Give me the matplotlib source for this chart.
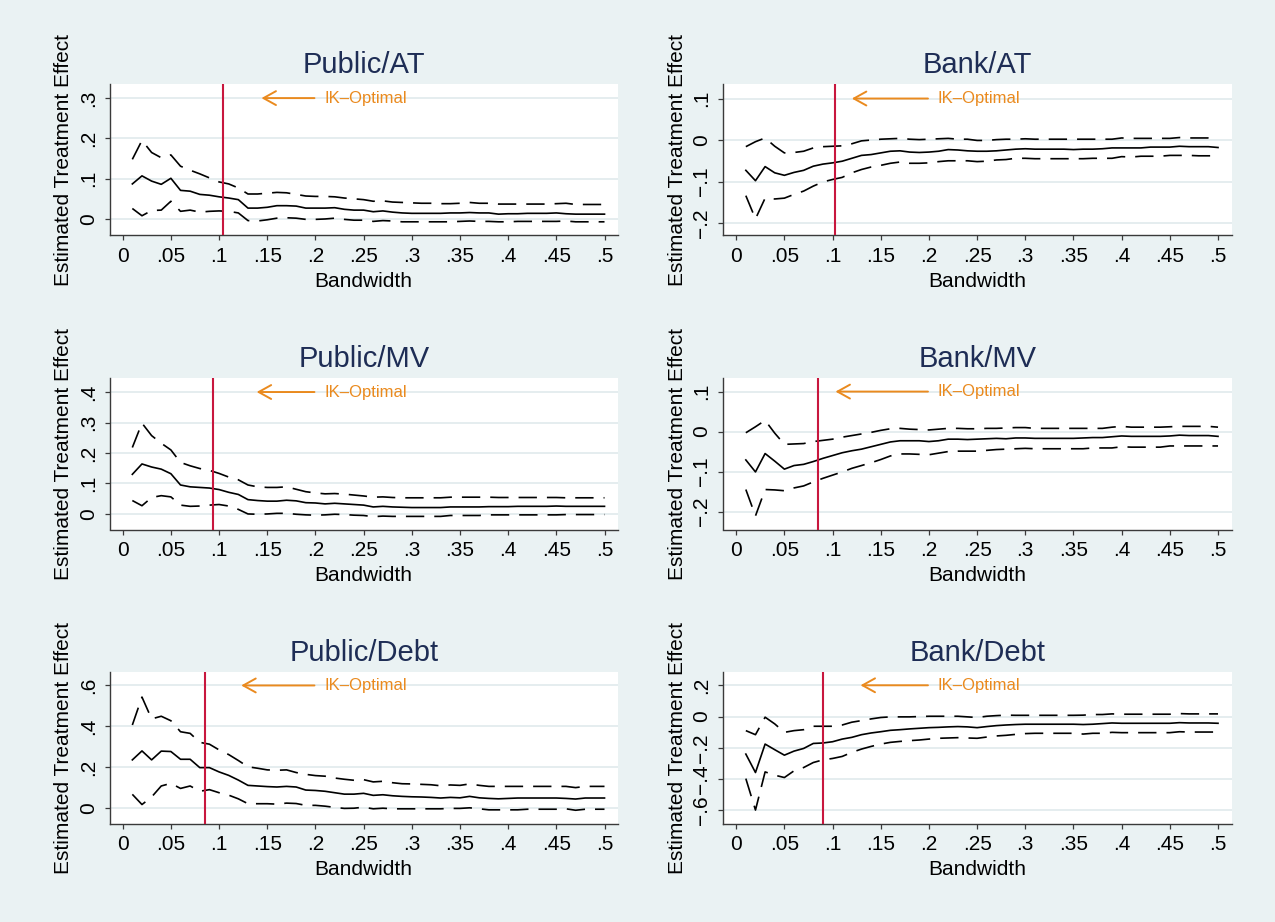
"""
Bandwidth sensitivity of the RD treatment effect, six panels (Stata look).
Saves out.png.
"""

import matplotlib
matplotlib.use("Agg")
import matplotlib.pyplot as plt
from matplotlib.ticker import FixedLocator, FuncFormatter

plt.rcParams["font.family"] = ["Liberation Sans", "DejaVu Sans"]

# ---------------------------------------------------------------------------
# Data
# ---------------------------------------------------------------------------

bandwidth = [0.01, 0.02, 0.03, 0.04, 0.05, 0.06, 0.07, 0.08, 0.09, 0.10,
             0.11, 0.12, 0.13, 0.14, 0.15, 0.16, 0.17, 0.18, 0.19, 0.20,
             0.21, 0.22, 0.23, 0.24, 0.25, 0.26, 0.27, 0.28, 0.29, 0.30,
             0.31, 0.32, 0.33, 0.34, 0.35, 0.36, 0.37, 0.38, 0.39, 0.40,
             0.41, 0.42, 0.43, 0.44, 0.45, 0.46, 0.47, 0.48, 0.49, 0.50]

titles = ["Public/AT", "Bank/AT", "Public/MV", "Bank/MV", "Public/Debt", "Bank/Debt"]

# IK-optimal bandwidth per panel
ik_optimal = [0.104, 0.103, 0.094, 0.085, 0.085, 0.090]

# Public/AT
pub_at_est = [.087, .107, .094, .086, .101, .071, .069, .061, .059, .055,
              .052, .048, .027, .027, .029, .033, .033, .032, .027, .027,
              .027, .028, .024, .022, .022, .018, .020, .017, .015, .014,
              .014, .014, .014, .015, .015, .016, .015, .015, .012, .013,
              .013, .014, .014, .014, .015, .013, .012, .012, .012, .012]
pub_at_hi = [.148, .195, .165, .152, .159, .131, .121, .112, .102, .092,
             .087, .077, .062, .062, .064, .066, .065, .061, .057, .056,
             .056, .055, .052, .050, .048, .044, .045, .042, .041, .040,
             .039, .039, .038, .038, .039, .041, .039, .039, .037, .037,
             .037, .037, .037, .037, .038, .039, .036, .036, .036, .036]
pub_at_lo = [.026, .008, .021, .022, .044, .019, .022, .017, .019, .020,
             .019, .015, -.004, -.005, -.002, .002, .003, .002, -.001, -.001,
             .000, .002, -.001, -.003, -.003, -.006, -.004, -.005, -.007, -.007,
             -.007, -.007, -.007, -.007, -.006, -.005, -.006, -.006, -.007, -.007,
             -.006, -.006, -.006, -.006, -.006, -.005, -.007, -.007, -.007, -.007]

# Bank/AT
bank_at_est = [-.073, -.098, -.064, -.079, -.085, -.078, -.073, -.063, -.058, -.055,
               -.051, -.044, -.037, -.035, -.031, -.027, -.026, -.029, -.030, -.029,
               -.027, -.023, -.024, -.026, -.027, -.027, -.026, -.024, -.022, -.021,
               -.022, -.022, -.022, -.022, -.023, -.022, -.022, -.021, -.019, -.019,
               -.019, -.019, -.017, -.017, -.017, -.015, -.016, -.016, -.016, -.018]
bank_at_hi = [-.016, -.004, .005, -.015, -.031, -.030, -.027, -.019, -.016, -.015,
              -.014, -.009, -.002, .000, .002, .003, .004, .002, .001, .002,
              .003, .004, .002, .002, -.001, -.001, .001, .002, .002, .003,
              .002, .002, .002, .002, .002, .002, .002, .002, .002, .005,
              .004, .004, .004, .004, .004, .006, .005, .005, .005, .003]
bank_at_lo = [-.134, -.190, -.140, -.142, -.140, -.131, -.123, -.111, -.101, -.095,
              -.090, -.079, -.071, -.065, -.061, -.056, -.053, -.056, -.056, -.055,
              -.052, -.050, -.050, -.050, -.052, -.051, -.048, -.047, -.044, -.044,
              -.045, -.045, -.045, -.045, -.045, -.045, -.044, -.044, -.044, -.040,
              -.041, -.039, -.039, -.039, -.037, -.037, -.037, -.038, -.038, -.038]

# Public/MV
pub_mv_est = [.130, .164, .154, .147, .132, .095, .089, .087, .085, .080,
              .071, .064, .047, .044, .042, .042, .045, .043, .037, .036,
              .033, .035, .033, .031, .029, .023, .025, .023, .022, .021,
              .021, .021, .021, .023, .023, .023, .023, .024, .024, .024,
              .025, .025, .025, .025, .026, .025, .025, .025, .025, .025]
pub_mv_hi = [.218, .298, .257, .232, .210, .169, .158, .149, .143, .133,
             .121, .112, .095, .089, .087, .087, .089, .081, .073, .069,
             .066, .067, .065, .062, .059, .055, .056, .054, .053, .053,
             .053, .053, .053, .055, .055, .055, .055, .055, .054, .054,
             .054, .054, .054, .054, .054, .053, .053, .053, .053, .053]
pub_mv_lo = [.044, .027, .054, .060, .056, .029, .025, .026, .029, .031,
             .026, .015, .000, -.001, .000, .002, .002, -.001, -.003, -.004,
             -.003, -.001, -.002, -.004, -.005, -.009, -.007, -.008, -.008, -.008,
             -.008, -.008, -.008, -.005, -.005, -.005, -.005, -.003, -.003, -.003,
             -.003, -.003, -.003, -.003, -.003, -.002, -.002, -.002, -.002, -.002]

# Bank/MV
bank_mv_est = [-.071, -.101, -.055, -.074, -.094, -.085, -.082, -.075, -.067, -.060,
               -.053, -.048, -.044, -.038, -.032, -.026, -.023, -.023, -.023, -.025,
               -.023, -.019, -.019, -.020, -.019, -.018, -.017, -.018, -.016, -.016,
               -.017, -.017, -.017, -.017, -.017, -.016, -.015, -.015, -.013, -.011,
               -.012, -.012, -.012, -.012, -.011, -.009, -.010, -.010, -.010, -.012]
bank_mv_hi = [-.003, .012, .028, -.004, -.032, -.031, -.030, -.025, -.022, -.019,
              -.014, -.010, -.006, -.002, .003, .007, .008, .006, .005, .004,
              .006, .008, .008, .007, .007, .008, .008, .009, .010, .010,
              .008, .008, .008, .008, .008, .008, .008, .008, .011, .013,
              .011, .011, .011, .011, .012, .013, .013, .013, .013, .011]
bank_mv_lo = [-.145, -.211, -.145, -.146, -.148, -.141, -.136, -.126, -.117, -.109,
              -.101, -.092, -.085, -.078, -.070, -.061, -.056, -.056, -.057, -.058,
              -.054, -.050, -.049, -.049, -.049, -.047, -.045, -.044, -.043, -.042,
              -.043, -.043, -.043, -.043, -.043, -.043, -.041, -.041, -.041, -.038,
              -.039, -.039, -.039, -.039, -.036, -.036, -.036, -.036, -.036, -.036]

# Public/Debt
pub_debt_est = [.235, .279, .235, .278, .276, .238, .238, .197, .197, .176,
                .159, .136, .110, .107, .104, .102, .105, .102, .087, .085,
                .081, .074, .067, .067, .071, .061, .064, .059, .056, .054,
                .053, .051, .048, .051, .049, .056, .049, .046, .044, .046,
                .048, .048, .048, .048, .048, .046, .043, .048, .048, .048]
pub_debt_hi = [.406, .543, .436, .449, .427, .373, .365, .321, .312, .284,
               .261, .232, .201, .194, .186, .184, .186, .173, .164, .158,
               .155, .146, .140, .135, .138, .127, .130, .123, .118, .117,
               .115, .113, .108, .112, .110, .117, .110, .105, .105, .105,
               .105, .105, .105, .105, .105, .105, .099, .105, .105, .105]
pub_debt_lo = [.066, .016, .053, .107, .120, .095, .107, .081, .089, .074,
               .062, .044, .020, .020, .020, .018, .023, .021, .012, .012,
               .008, .002, -.003, -.002, .003, -.005, -.002, -.005, -.005, -.005,
               -.005, -.005, -.005, -.003, -.003, .000, -.005, -.010, -.010, -.010,
               -.010, -.007, -.007, -.007, -.007, -.005, -.012, -.007, -.007, -.007]

# Bank/Debt
bank_debt_est = [-.240, -.358, -.176, -.212, -.247, -.221, -.204, -.172, -.169, -.161,
                 -.144, -.133, -.116, -.105, -.097, -.088, -.084, -.079, -.075, -.071,
                 -.069, -.066, -.064, -.066, -.071, -.064, -.058, -.054, -.051, -.049,
                 -.049, -.049, -.049, -.049, -.049, -.051, -.049, -.045, -.041, -.043,
                 -.043, -.043, -.043, -.043, -.043, -.039, -.041, -.041, -.041, -.043]
bank_debt_hi = [-.090, -.116, -.004, -.047, -.101, -.090, -.084, -.062, -.062, -.062,
                -.054, -.036, -.026, -.015, -.006, -.002, -.002, -.002, .000, .002,
                .002, .002, .002, -.002, -.006, .002, .006, .009, .008, .008,
                .008, .008, .008, .008, .008, .009, .013, .013, .017, .015,
                .015, .015, .015, .015, .015, .019, .017, .017, .017, .017]
bank_debt_lo = [-.397, -.598, -.354, -.375, -.390, -.347, -.326, -.294, -.277, -.268,
                -.255, -.229, -.208, -.191, -.176, -.165, -.159, -.154, -.150, -.144,
                -.139, -.137, -.135, -.137, -.139, -.131, -.124, -.120, -.114, -.109,
                -.107, -.107, -.107, -.107, -.107, -.112, -.107, -.107, -.101, -.103,
                -.103, -.103, -.103, -.103, -.103, -.097, -.099, -.099, -.099, -.099]

estimates = [pub_at_est, bank_at_est, pub_mv_est, bank_mv_est, pub_debt_est, bank_debt_est]
upper = [pub_at_hi, bank_at_hi, pub_mv_hi, bank_mv_hi, pub_debt_hi, bank_debt_hi]
lower = [pub_at_lo, bank_at_lo, pub_mv_lo, bank_mv_lo, pub_debt_lo, bank_debt_lo]

x_ticks = [0, .05, .1, .15, .2, .25, .3, .35, .4, .45, .5]
y_ticks = [[0, .1, .2, .3], [-.2, -.1, 0, .1], [0, .1, .2, .3, .4],
           [-.2, -.1, 0, .1], [0, .2, .4, .6], [-.6, -.4, -.2, 0, .2]]

# ---------------------------------------------------------------------------
# Layout / style
# ---------------------------------------------------------------------------

BG = "#EAF2F3"
GRID = "#E3ECEE"
TITLE_COL = "#1E2D55"
ORANGE = "#EA8A1E"
RED = "#C8173E"

W, H = 1275, 922
col_left = [109.5, 723.0]
col_width = 508.5
row_top = [84.0, 378.0, 672.0]
row_height = 151.5

y_limits = [(-0.041, 0.335), (-0.230, 0.135), (-0.051, 0.446),
            (-0.245, 0.134), (-0.077, 0.666), (-0.684, 0.285)]
arrow_head = [0.144, 0.120, 0.139, 0.103, 0.123, 0.129]
arrow_tail = 0.199
label_x = 0.209


def stata_fmt(v, pos=None):
    if abs(v) < 1e-9:
        return "0"
    s = f"{abs(v):g}".lstrip("0")
    return ("\u2212" if v < 0 else "") + s


fig = plt.figure(figsize=(W / 100, H / 100), dpi=100, facecolor=BG)

for i, title in enumerate(titles):
    r, c = divmod(i, 2)
    left = col_left[c] / W
    bottom = 1 - (row_top[r] + row_height) / H
    ax = fig.add_axes([left, bottom, col_width / W, row_height / H])
    ax.set_facecolor("white")

    ax.plot(bandwidth, estimates[i], color="black", lw=1.2, zorder=3)
    ax.plot(bandwidth, upper[i], color="black", lw=1.2, dashes=(11, 6), zorder=3)
    ax.plot(bandwidth, lower[i], color="black", lw=1.2, dashes=(11, 6), zorder=3)

    ax.axvline(ik_optimal[i], color=RED, lw=1.5, zorder=4)

    top = y_ticks[i][-1]
    ax.annotate("", xy=(arrow_head[i], top), xytext=(arrow_tail, top),
                arrowprops=dict(arrowstyle="->,head_length=0.9,head_width=0.5",
                                color=ORANGE, lw=1.4, shrinkA=0, shrinkB=0,
                                mutation_scale=10), zorder=4)
    ax.text(label_x, top, "IK\u2013Optimal", color=ORANGE, fontsize=12,
            va="center", ha="left", zorder=4)

    ax.set_xlim(-0.0137, 0.514)
    ax.set_ylim(*y_limits[i])
    ax.xaxis.set_major_locator(FixedLocator(x_ticks))
    ax.yaxis.set_major_locator(FixedLocator(y_ticks[i]))
    ax.xaxis.set_major_formatter(FuncFormatter(stata_fmt))
    ax.yaxis.set_major_formatter(FuncFormatter(stata_fmt))
    ax.grid(True, axis="y", color=GRID, lw=1.3, zorder=0)

    for side in ("top", "right"):
        ax.spines[side].set_visible(False)
    for side in ("left", "bottom"):
        ax.spines[side].set_color("#3a3a3a")
        ax.spines[side].set_linewidth(1.0)

    ax.tick_params(axis="both", direction="out", length=3.5, width=0.9,
                   color="#3a3a3a", labelsize=15, labelcolor="black")
    ax.tick_params(axis="x", pad=5)
    ax.tick_params(axis="y", pad=5, labelrotation=90)
    for lab in ax.get_yticklabels():
        lab.set_va("center")

    ax.set_xlabel("Bandwidth", fontsize=15, labelpad=4)
    ax.set_ylabel("Estimated Treatment Effect", fontsize=15, labelpad=4)
    ax.set_title(title, fontsize=21, color=TITLE_COL, pad=8)

fig.savefig("out.png", dpi=100, facecolor=BG)
